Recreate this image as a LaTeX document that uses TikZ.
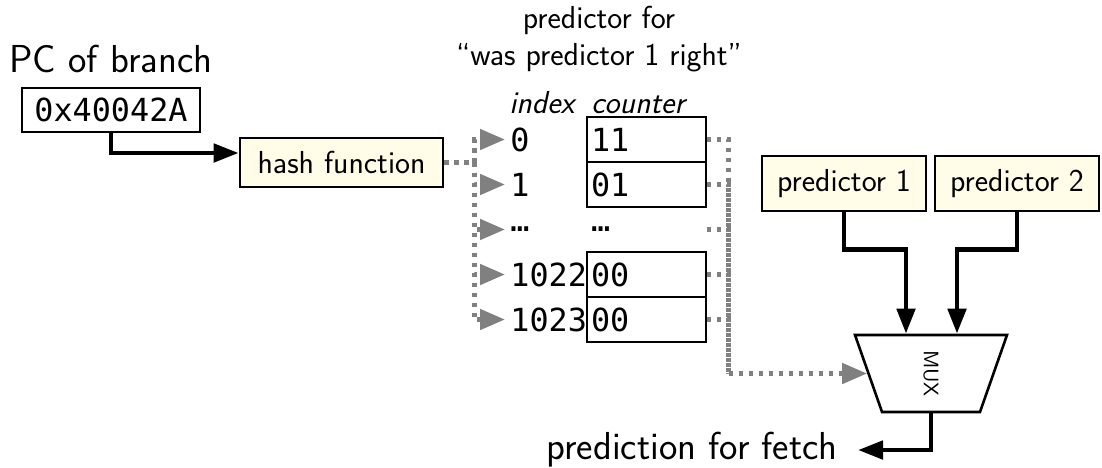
\documentclass[tikz,border=0pt]{standalone}
\usepackage{fontspec}
\setmonofont{DejaVu Sans Mono}
\usetikzlibrary{arrows.meta,calc,shapes.geometric,positioning}

\begin{document}
\begin{tikzpicture}[x=0.5pt, y=-0.5pt,
    every node/.style={font=\sffamily\fontsize{15.9}{18.5}\selectfont, inner sep=0pt},
    bigtext/.style={font=\sffamily\fontsize{19.5}{23}\selectfont},
    monotext/.style={font=\ttfamily\fontsize{15.9}{18.5}\selectfont},
    regbox/.style={monotext, draw, line width=1.4pt, minimum width=89pt, minimum height=22pt},
    fnbox/.style={draw, fill=boxfill, line width=1.3pt, minimum height=24.5pt},
    cellbox/.style={monotext, draw=#1, line width=0.6pt, minimum height=22.5pt,
        inner xsep=2pt, text width=55.5pt, align=left},
    cellbox/.default=black,
    idxcell/.style={monotext, anchor=west, inner xsep=2.5pt},
    muxshape/.style={draw, line width=1.3pt, trapezium, trapezium left angle=120,
        trapezium right angle=120, trapezium stretches body, minimum width=76pt,
        minimum height=38.5pt, font=\sffamily\fontsize{10.5}{12}\selectfont},
    arr/.style={line width=2.4pt, -{Triangle[length=12.5pt, width=9pt]}},
    dotline/.style={gray, line width=2.4pt, dash pattern=on 2.3pt off 2.7pt},
    dotarr/.style={dotline, -{Triangle[length=12.5pt, width=10pt]}}]
    % Define colors
    \definecolor{boxfill}{RGB}{255,252,232}

    \useasboundingbox (0,0) rectangle (1102,467);

    % PC and hash function
    \node[bigtext, anchor=base west] (pclabel) at (9,72) {PC of branch};
    \node[regbox] (pc) at (111,110) {0x40042A};
    \node[fnbox, minimum width=101.5pt] (hash) at (341.5,162.5) {hash function};
    \draw[arr] (pc.south) |- ($(hash.west)+(0,-9.5)$);

    % Table of counters
    \node[align=center, anchor=north] (tabtitle) at (599,6)
        {predictor for\\``was predictor 1 right''};
    \node[anchor=base west] (idxhead) at (509,113) {\itshape index};
    \node[anchor=base west] (cnthead) at (591,113) {\itshape counter};
    \foreach \lbl/\val/\edge [count=\i from 0] in
        {0/11/black, 1/01/black, …/…/none, 1022/00/black, 1023/00/black} {
        \node[idxcell] (idx\i) at (505,{139.5+45*\i}) {\lbl};
        \node[cellbox=\edge] (cnt\i) at (646.5,{139.5+45*\i}) {\val};
    }

    % Predictors and MUX
    \node[fnbox, line width=1.1pt, minimum width=82pt, minimum height=27.5pt] (pred1) at (844,183.5) {predictor 1};
    \node[fnbox, line width=1.1pt, minimum width=82pt, minimum height=27.5pt] (pred2) at (1017,183.5) {predictor 2};
    \node[muxshape] (mux) at (931,373.5) {\rotatebox{-90}{MUX}};
    \coordinate (in1) at ($(mux.north)+(-25,0)$);
    \coordinate (in2) at ($(mux.north)+(26,0)$);
    \draw[arr] (pred1.south) -- ++(0,37) -| (in1);
    \draw[arr] (pred2.south) -- ++(0,37) -| (in2);

    % Output
    \node[bigtext, anchor=east, inner xsep=10pt] (outlabel) at (858,450) {prediction for fetch};
    \draw[arr] (mux.south) |- (outlabel.east);

    % Dotted lookup paths
    \coordinate (fanin) at ($(hash.east)+(30,0)$);
    \draw[dotline] (hash.east) -- (fanin);
    \coordinate (fanx) at ($(cnt0.east)+(22,0)$);
    \coordinate (fanout) at (fanx |- mux.west);
    \foreach \i in {0,...,4} {
        \draw[dotarr] (fanin) |- (idx\i.west);
        \draw[dotline] (cnt\i.east) -| (fanout);
    }
    \draw[dotarr] (fanout) -- (mux.west);
\end{tikzpicture}
\end{document}
